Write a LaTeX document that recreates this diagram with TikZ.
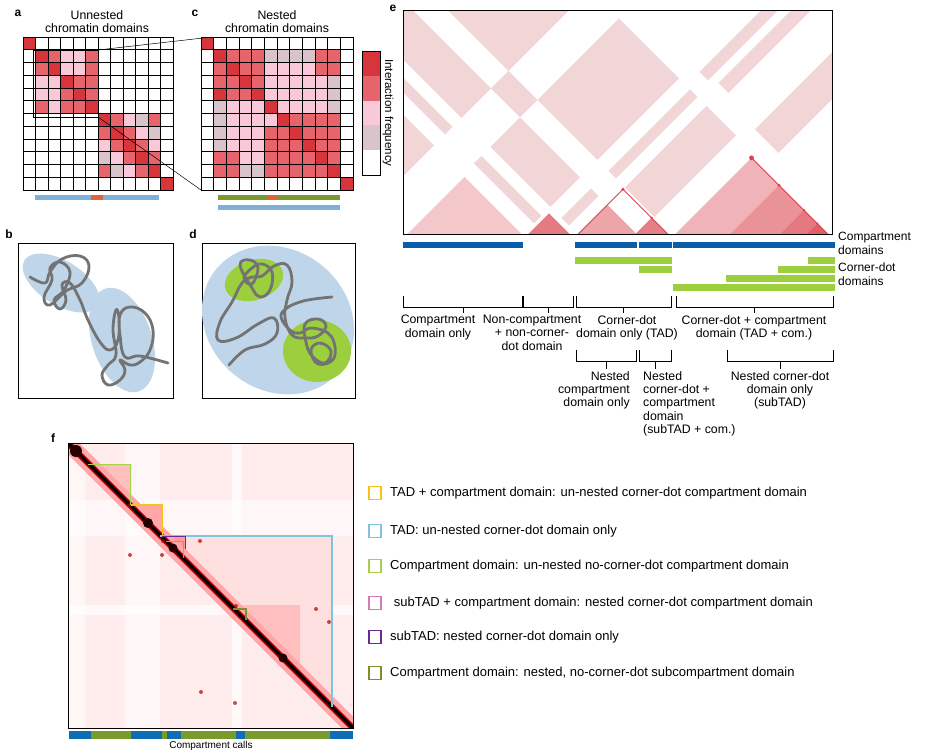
\documentclass[tikz,border=0pt]{standalone}
\usepackage{fontspec}
\setmainfont{Liberation Sans}
\usetikzlibrary{calc}
\definecolor{c0}{HTML}{FFFFFF}
\definecolor{c1}{HTML}{D9C4CC}
\definecolor{c2}{HTML}{F9C9DA}
\definecolor{c3}{HTML}{E8646D}
\definecolor{c4}{HTML}{D8343C}
\definecolor{epink}{HTML}{F2D5D7}
\definecolor{ered}{HTML}{D9434E}
\definecolor{cblue}{HTML}{7EB1DA}
\definecolor{corange}{HTML}{E0633A}
\definecolor{colive}{HTML}{7B9A2C}
\definecolor{eblue}{HTML}{0A5EA8}
\definecolor{egreen}{HTML}{9CCF3E}
\definecolor{lblue}{HTML}{BFD6EA}
\definecolor{lgreen}{HTML}{9CCF3E}
\definecolor{chrom}{HTML}{737373}
\definecolor{fyellow}{HTML}{F7C21A}
\definecolor{fblue}{HTML}{7FC3DD}
\definecolor{fgreen}{HTML}{A6D14B}
\definecolor{fpink}{HTML}{D87AB7}
\definecolor{fpurple}{HTML}{6A2C91}
\definecolor{folive}{HTML}{7B8F2A}
\definecolor{fbar}{HTML}{0E6DB3}
\newcommand\rh[4]{\fill[epink] ({(#1+#3)/2},{234.3-(#3-#1)/2}) -- ({(#2+#3)/2},{234.3-(#3-#2)/2}) -- ({(#2+#4)/2},{234.3-(#4-#2)/2}) -- ({(#1+#4)/2},{234.3-(#4-#1)/2}) -- cycle;}
\newcommand\etri[3]{\fill[#3] (#1,234.3) -- ({(#1+#2)/2},{234.3-(#2-#1)/2}) -- (#2,234.3) -- cycle;}
\def\ivl{100/150/2,150/345/1,345/403/2,403/523/1,523/545/5,545/560/1,560/578/6,578/637/1,637/672/2,672/835/1,835/1100/7}
\tikzset{
 lbl/.style={font=\fontsize{12}{13}\selectfont\bfseries, inner sep=0pt},
 ttl/.style={font=\fontsize{12.3}{13}\selectfont, align=center, inner sep=0pt},
 etxt/.style={font=\fontsize{12.3}{13.3}\selectfont, inner sep=0pt, anchor=north},
 leg/.style={font=\fontsize{13}{14}\selectfont, inner sep=0pt, anchor=west},
 brk/.style={line width=0.7pt},
 chr/.style={chrom, line width=2.8pt, line cap=round, line join=round},
 fbox/.style={line width=1.3pt},
}
\begin{document}
\begin{tikzpicture}[x=1pt,y=-1pt]
\useasboundingbox (0,0) rectangle (947,753);
\fill[white] (0,0) rectangle (947,753);
% ---------- panel a ----------
\node[lbl] (la) at (18,13) {a};
\node[ttl] (ta) at (97,22) {Unnested\\chromatin domains};
\foreach \r/\row in {0/{4,0,0,0,0,0,0,0,0,0,0,0},1/{0,4,3,2,2,3,0,0,0,0,0,0},2/{0,3,4,2,2,3,0,0,0,0,0,0},3/{0,2,2,4,3,3,0,0,0,0,0,0},4/{0,2,2,3,4,3,0,0,0,0,0,0},5/{0,3,2,3,3,4,0,0,0,0,0,0},6/{0,0,0,0,0,0,4,3,2,1,3,0},7/{0,0,0,0,0,0,3,4,3,2,1,0},8/{0,0,0,0,0,0,2,3,4,3,2,0},9/{0,0,0,0,0,0,1,2,3,4,3,0},10/{0,0,0,0,0,0,3,1,2,3,4,0},11/{0,0,0,0,0,0,0,0,0,0,0,4}}{
 \foreach \v [count=\c from 0] in \row {
  \fill[c\v] ({23+12.5*\c},{37+12.75*\r}) rectangle ++(12.5,12.75);
 }}
\foreach \k in {1,...,11}{\draw[line width=0.6pt] ({23+12.5*\k},37) -- ({23+12.5*\k},190); \draw[line width=0.6pt] (23,{37+12.75*\k}) -- (173,{37+12.75*\k});}
\draw[line width=1pt] (23,37) rectangle (173,190);
\draw[line width=0.8pt] (33,50) rectangle (98,117);
\coordinate (za1) at (98,50); \coordinate (za2) at (98,117);
\fill[cblue] (35,195) rectangle (159,200);
\fill[corange] (91,195) rectangle (103,200);
% ---------- panel c ----------
\node[lbl] (lc) at (195,13) {c};
\node[ttl] (tc) at (277,22) {Nested\\chromatin domains};
\foreach \r/\row in {0/{4,0,0,0,0,0,0,0,0,0,0,0},1/{0,4,3,3,3,1,1,1,1,3,3,0},2/{0,3,4,3,3,2,2,2,2,3,3,0},3/{0,3,3,4,3,2,2,2,2,2,1,0},4/{0,4,3,3,4,2,2,2,2,2,1,0},5/{0,1,2,2,2,4,2,2,2,2,1,0},6/{0,1,2,2,2,2,4,3,3,3,3,0},7/{0,1,2,2,2,3,3,4,3,3,3,0},8/{0,1,2,2,2,3,3,3,4,3,3,0},9/{0,3,3,2,2,3,3,3,3,4,3,0},10/{0,3,3,1,1,3,3,3,3,3,4,0},11/{0,0,0,0,0,0,0,0,0,0,0,4}}{
 \foreach \v [count=\c from 0] in \row {
  \fill[c\v] ({201+12.67*\c},{37+12.75*\r}) rectangle ++(12.67,12.75);
 }}
\foreach \k in {1,...,11}{\draw[line width=0.6pt] ({201+12.67*\k},37) -- ({201+12.67*\k},190); \draw[line width=0.6pt] (201,{37+12.75*\k}) -- (353,{37+12.75*\k});}
\draw[line width=1pt] (201,37) rectangle (353,190);
\coordinate (zc1) at (203,38); \coordinate (zc2) at (201,190);
\draw[line width=0.5pt] (za1) -- (zc1);
\draw[line width=0.5pt] (za2) -- (zc2);
\fill[colive] (218,195) rectangle (340,200);
\fill[corange] (268,195) rectangle (278,200);
\fill[cblue] (218,205) rectangle (340,210);
% colour bar
\foreach \k/\cc in {0/c4,1/c3,2/c2,3/c1,4/c0}{\fill[\cc] (362,{51+24.8*\k}) rectangle (380,{51+24.8*(\k+1)});}
\draw[line width=0.4pt] (362,51) rectangle (380,175);
\node[font=\fontsize{11.5}{12}\selectfont, rotate=-90, inner sep=0pt] (cb) at (388,113) {Interaction frequency};
% ---------- panel b ----------
\node[lbl] (lb) at (9,234) {b};
\draw[line width=0.8pt] (18,243) rectangle (173,398);
\fill[lblue] (61,283) ellipse [x radius=43, y radius=22, rotate=-32];
\fill[lblue] (122,340) ellipse [x radius=54, y radius=30, rotate=-72];
\draw[chr] plot[smooth, tension=0.7] coordinates {(30,277) (45,283) (50,272) (62,259) (80,256) (89,266) (82,283) (66,291) (50,305) (44,297) (52,280) (50,268) (60,262) (70,272) (64,290) (54,300) (60,309) (66,300) (62,285) (70,283) (80,300) (88,320) (100,342) (110,350) (118,340) (119,318) (116,310) (113,330) (116,355) (108,365) (102,375) (108,385) (120,380) (125,370) (120,360) (130,365) (140,362) (150,350) (153,330) (145,313) (130,307) (120,315) (120,335) (125,357) (140,356) (168,363)};
% ---------- panel d ----------
\node[lbl] (ld) at (193,234) {d};
\draw[line width=0.8pt] (202,243) rectangle (355,398);
\fill[lblue] (278,320) ellipse [x radius=80, y radius=70, rotate=-40];
\fill[lgreen] (254,280) ellipse [x radius=30, y radius=20, rotate=18];
\fill[lgreen] (317,351) ellipse [x radius=34, y radius=31];
\draw[chr] plot[smooth, tension=0.7] coordinates {(229,365) (245,350) (265,344) (277,333) (274,318) (258,324) (236,338) (218,340) (220,322) (232,302) (242,283) (252,277) (262,276) (274,266) (287,265) (292,282) (287,300) (285,318) (292,335) (305,338) (318,336) (326,326) (318,319) (305,324) (306,342) (312,356) (325,363) (331,351) (320,343) (311,350) (318,364) (334,358) (331,336) (312,328) (300,333) (290,330) (281,317) (287,308) (300,302) (314,299) (332,297)};
\draw[chr] plot[smooth cycle, tension=0.7] coordinates {(240,265) (250,260) (258,268) (252,284) (244,278) (252,268) (262,264) (272,272) (270,290) (260,297) (252,288)};
% ---------- panel e ----------
\node[lbl] (le) at (393,8) {e};
\begin{scope}
\clip (403.3,10) rectangle (832.7,234.3);
\foreach \a/\b/\t [count=\i] in \ivl {
 \foreach \c/\d/\s [count=\j] in \ivl {
  \ifnum\j>\i \ifnum\t=\s \rh{\a}{\b}{\c}{\d} \fi\fi
 }}
\rh{537}{554}{862}{1100}\rh{567}{587}{870}{1100}\rh{650}{697}{860}{1100}
\etri{407}{522}{ered!30!white}
\etri{528}{570}{ered!70!white}
\etri{578}{668}{white}
\etri{578}{637}{ered!48!white}
\etri{635}{668}{ered!68!white}
\etri{675}{828}{ered!40!white}
\etri{730}{828}{ered!58!white}
\etri{780}{828}{ered!72!white}
\etri{807}{828}{ered!85!white}
\end{scope}
\draw[ered, line width=0.8pt] (578,234.3) -- (623,189.3) -- (668,234.3);
\draw[ered, line width=0.8pt] (751.5,157.8) -- (828,234.3);
\fill[ered] (623,189.3) circle (1.6);
\fill[ered] (651.5,217.8) circle (1.3);
\fill[ered] (751.5,157.8) circle (2.4);
\fill[ered] (779,185.3) circle (1.6);
\fill[ered] (804,210.3) circle (1.4);
\fill[ered] (817.5,223.8) circle (1.1);
\draw[line width=0.8pt] (403.3,10) rectangle (832.7,234.3);
% bars
\foreach \a/\b in {403/523,575/637,639/672,673/835}{\fill[eblue] (\a,241.7) rectangle (\b,248.3);}
\foreach \a/\b/\y in {575/672/257,808/835/257,639/672/266,778/835/266,726/835/275,673/835/284}{\fill[egreen] (\a,\y) rectangle (\b,\y+7);}
\node[font=\fontsize{12}{13.5}\selectfont, align=left, anchor=north west, inner sep=0pt] (cdl) at (838,232) {Compartment\\domains};
\node[font=\fontsize{12}{13.5}\selectfont, align=left, anchor=north west, inner sep=0pt] (cdd) at (838,263) {Corner-dot\\domains};
% brackets row 1
\foreach \a/\b in {403/523,523/573,576/671,676/833}{\draw[brk] (\a,296) -- (\a,307) -- (\b,307) -- (\b,296); \draw[brk] ({(\a+\b)/2},307) -- ({(\a+\b)/2},313);}
\draw[line width=1.4pt] (523,296) -- (523,307);
\node[etxt, align=center] (t1) at (438,315) {Compartment\\domain only};
\node[etxt, align=center] (t2) at (532,315) {Non-compartment\\+ non-corner-\\dot domain};
\node[etxt, align=center] (t3) at (627,315) {Corner-dot\\domain only (TAD)};
\node[etxt, align=center] (t4) at (754,315) {Corner-dot + compartment\\domain (TAD + com.)};
% brackets row 2
\foreach \a/\b in {576/636,639/671,727/833}{\draw[brk] (\a,350) -- (\a,361) -- (\b,361) -- (\b,350); \draw[brk] ({(\a+\b)/2},361) -- ({(\a+\b)/2},369);}
\node[etxt, align=right, anchor=north east] (t5) at (630,371) {Nested\\compartment\\domain only};
\node[etxt, align=left, anchor=north west] (t6) at (643,371) {Nested\\corner-dot +\\compartment\\domain\\(subTAD + com.)};
\node[etxt, align=center] (t7) at (780,371) {Nested corner-dot\\domain only\\(subTAD)};
% ---------- panel f ----------
\node[lbl] (lf) at (53,438) {f};
\begin{scope}
\clip (68,443) rectangle (353,728);
\fill[red!7!white] (68,443) rectangle (353,728);
\fill[white, opacity=0.6] (125,443) rectangle (160,728);
\fill[white, opacity=0.6] (68,500) rectangle (353,536);
\fill[white, opacity=0.7] (232,443) rectangle (242,728);
\fill[white, opacity=0.7] (68,605) rectangle (353,615);
\fill[white, opacity=0.5] (68,443) rectangle (85,728);
\fill[red!12!white] (160,536) -- (332,536) -- (332,707) -- cycle;
\fill[red!25!white] (88,464) -- (131,464) -- (131,505) -- cycle;
\fill[red!35!white] (131,505) -- (162,505) -- (162,536) -- cycle;
\fill[red!40!white] (162,537) -- (185,537) -- (185,558) -- cycle;
\fill[red!25!white] (236,605) -- (300,605) -- (300,668) -- cycle;
\draw[red!35!white, line width=16pt] (68,443) -- (353,728);
\draw[red!70!black, line width=6pt] (68,443) -- (353,728);
\draw[black, line width=3pt] (68,443) -- (353,728);
\fill[black!85!red] (76,451) circle (6);
\fill[black!85!red] (148,523) circle (5);
\fill[black!85!red] (173,548) circle (4.5);
\fill[black!85!red] (283,658) circle (4.5);
\foreach \p in {(130,505),(162,536),(236,606),(316,609),(329,622),(201,692),(235,703),(163,541),(130,555),(200,541),(162,555)}{\fill[red!70!black, opacity=0.7] \p circle (2);}
\end{scope}
\draw[line width=0.8pt] (68,443) rectangle (353,728);
\draw[fgreen, fbox] (88.3,464.3) -- (130.7,464.3) -- (130.7,505);
\draw[fyellow, fbox] (130.7,505) -- (162.3,505) -- (162.3,536);
\draw[fblue, fbox] (160,536) -- (332,536) -- (332,707.3);
\draw[fpurple, fbox] (161.7,536.7) -- (185.3,536.7) -- (185.3,549);
\draw[fpink, fbox] (166,541.7) -- (183.3,541.7) -- (183.3,558.3);
\draw[folive, fbox] (233.3,609) -- (246,609) -- (246,620);
\foreach \a/\b/\cc in {69.3/90.7/fbar,90.7/130.7/colive,130.7/161.7/fbar,161.7/166.7/colive,166.7/180.7/fbar,180.7/236/colive,236/245/fbar,245/330/colive,330/352.7/fbar}{\fill[\cc] (\a,731) rectangle (\b,739);}
\node[font=\fontsize{10}{11}\selectfont, inner sep=0pt] (cc) at (211,746) {Compartment calls};
% legend
\foreach \y/\cc/\t in {493/fyellow/{TAD + compartment domain: un-nested corner-dot compartment domain},531/fblue/{TAD: un-nested corner-dot domain only},566/fgreen/{Compartment domain: un-nested no-corner-dot compartment domain},603/fpink/{\ subTAD + compartment domain: nested corner-dot compartment domain},637/fpurple/{subTAD: nested corner-dot domain only},673/folive/{Compartment domain: nested, no-corner-dot subcompartment domain}}{
 \draw[\cc, line width=1.3pt] (369,{\y-6.5}) rectangle (381,{\y+6.5});
 \node[leg] at (390,\y) {\t};
}
\end{tikzpicture}
\end{document}
